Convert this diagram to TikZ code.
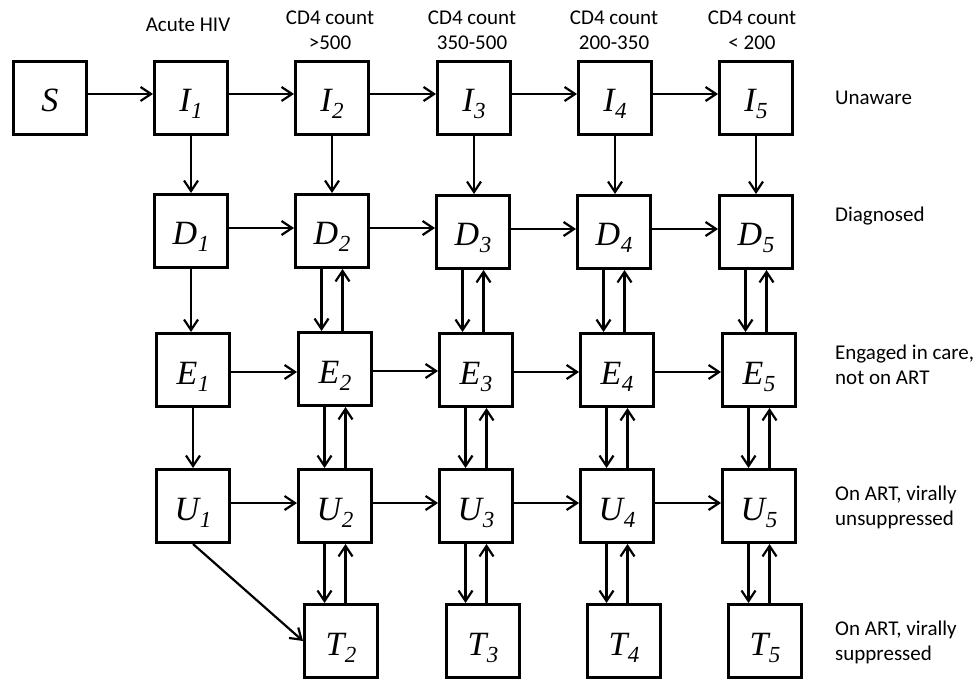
\documentclass[tikz,border=0pt]{standalone}
\usepackage{fontspec}
\setmainfont{Liberation Serif}
\newfontfamily\labfont{Carlito}
\usetikzlibrary{arrows.meta}
\newcommand\boxlbl[2]{{\fontsize{34}{34}\selectfont\itshape #1\kern0.5pt\raisebox{-7pt}{\fontsize{23}{23}\selectfont #2}}}
\begin{document}
\begin{tikzpicture}[x=1pt,y=-1pt,
  box/.style={draw, line width=2.6pt, minimum size=73.4pt, inner sep=0pt, text height=36pt, text depth=8pt},
  arr/.style={line width=2.2pt, -{Straight Barb[length=10.5pt,width=14pt,line width=2.2pt]}},
  lab/.style={font=\labfont\fontsize{21}{25}\selectfont, inner sep=0pt}]
\useasboundingbox[fill=white] (0,0) rectangle (975,679);

% top labels
\node[lab, anchor=base] (hAcute) at (188,32) {Acute HIV};
\node[lab, anchor=base] (h2a) at (330,25) {CD4 count};
\node[lab, anchor=base] (h2b) at (330,50) {>500};
\node[lab, anchor=base] (h3a) at (472,25) {CD4 count};
\node[lab, anchor=base] (h3b) at (472,50) {350-500};
\node[lab, anchor=base] (h4a) at (614,25) {CD4 count};
\node[lab, anchor=base] (h4b) at (614,50) {200-350};
\node[lab, anchor=base] (h5a) at (752,25) {CD4 count};
\node[lab, anchor=base] (h5b) at (752,50) {< 200};

% right labels
\node[lab, anchor=base west] (rUn) at (835,105) {Unaware};
\node[lab, anchor=base west] (rDi) at (835,222) {Diagnosed};
\node[lab, anchor=base west] (rEa) at (835,359) {Engaged in care,};
\node[lab, anchor=base west] (rEb) at (835,384) {not on ART};
\node[lab, anchor=base west] (rUa) at (835,500) {On ART, virally};
\node[lab, anchor=base west] (rUb) at (835,525) {unsuppressed};
\node[lab, anchor=base west] (rTa) at (835,635) {On ART, virally};
\node[lab, anchor=base west] (rTb) at (835,660) {suppressed};

% boxes
\node[box] (S) at (50,98) {\boxlbl{S}{}};
\node[box] (I1) at (191,98) {\boxlbl{I}{1}};
\node[box] (I2) at (332,98) {\boxlbl{I}{2}};
\node[box] (I3) at (474,98) {\boxlbl{I}{3}};
\node[box] (I4) at (615,98) {\boxlbl{I}{4}};
\node[box] (I5) at (756,98) {\boxlbl{I}{5}};

\node[box] (D1) at (191,231) {\boxlbl{D}{1}};
\node[box] (D2) at (332,231) {\boxlbl{D}{2}};
\node[box] (D3) at (473,232) {\boxlbl{D}{3}};
\node[box] (D4) at (614,232) {\boxlbl{D}{4}};
\node[box] (D5) at (756,232) {\boxlbl{D}{5}};

\node[box] (E1) at (193,370) {\boxlbl{E}{1}};
\node[box] (E2) at (335,369) {\boxlbl{E}{2}};
\node[box] (E3) at (476,370) {\boxlbl{E}{3}};
\node[box] (E4) at (617,370) {\boxlbl{E}{4}};
\node[box] (E5) at (759,370) {\boxlbl{E}{5}};

\node[box] (U1) at (193,506) {\boxlbl{U}{1}};
\node[box] (U2) at (335,506) {\boxlbl{U}{2}};
\node[box] (U3) at (476,506) {\boxlbl{U}{3}};
\node[box] (U4) at (617,506) {\boxlbl{U}{4}};
\node[box] (U5) at (759,506) {\boxlbl{U}{5}};

\node[box] (T2) at (341,641) {\boxlbl{T}{2}};
\node[box] (T3) at (483,641) {\boxlbl{T}{3}};
\node[box] (T4) at (624,641) {\boxlbl{T}{4}};
\node[box] (T5) at (765,641) {\boxlbl{T}{5}};

% horizontal arrows
\foreach \a/\b in {S/I1,I1/I2,I2/I3,I3/I4,I4/I5}
  \draw[arr] ([yshift=4pt]\a.east) -- ([yshift=4pt]\a.east -| \b.west);
\foreach \a/\b in {D1/D2,D2/D3,D3/D4,D4/D5}
  \draw[arr] ([yshift=3pt]\a.east) -- ([yshift=3pt]\a.east -| \b.west);
\foreach \a/\b in {E1/E2,E2/E3,E3/E4,E4/E5}
  \draw[arr] ([yshift=-2pt]\a.east) -- ([yshift=-2pt]\a.east -| \b.west);
\foreach \a/\b in {U1/U2,U2/U3,U3/U4,U4/U5}
  \draw[arr] ([yshift=3pt]\a.east) -- ([yshift=3pt]\a.east -| \b.west);

% single vertical arrows
\foreach \a/\b in {I1/D1,I2/D2,I3/D3,I4/D4,I5/D5,D1/E1,E1/U1}
  \draw[arr] (\a.south) -- (\a.south |- \b.north);

% paired vertical arrows
\foreach \a/\b in {D2/E2,D3/E3,D4/E4,D5/E5,E2/U2,E3/U3,E4/U4,E5/U5,U2/T2,U3/T3,U4/T4,U5/T5}{
  \draw[arr] ([xshift=-10.5pt]\a.south) -- ([xshift=-10.5pt]\a.south |- \b.north);
  \draw[arr] ([xshift=10.5pt]\a.south |- \b.north) -- ([xshift=10.5pt]\a.south);
}

% diagonal
\draw[arr] (U1.south) -- (T2.west);
\end{tikzpicture}
\end{document}
